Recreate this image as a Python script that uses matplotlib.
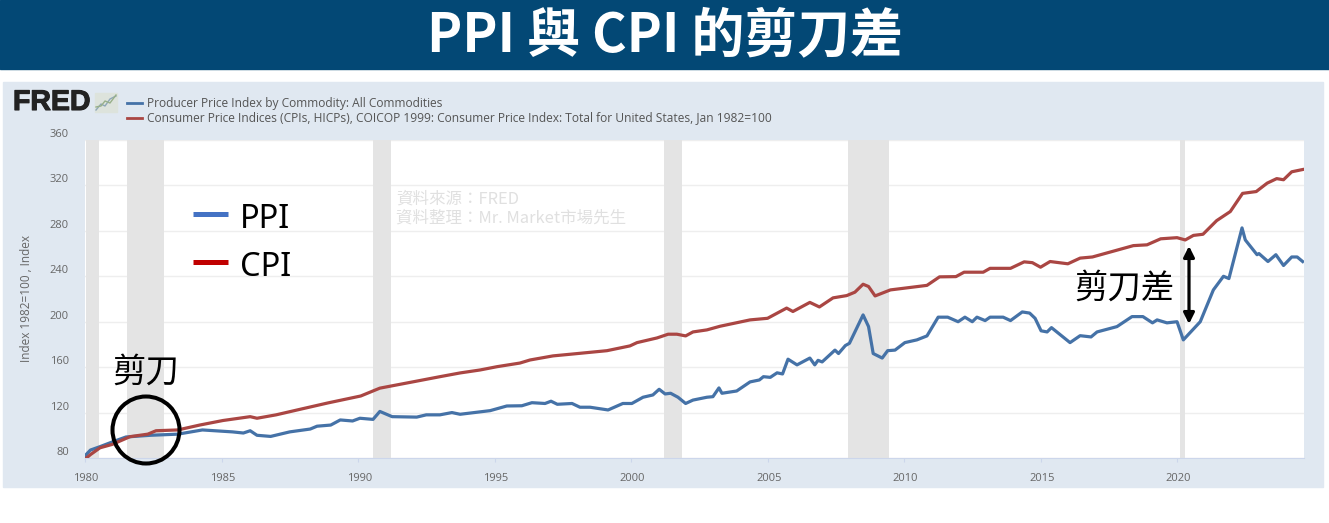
import matplotlib
matplotlib.use('Agg')
import matplotlib.pyplot as plt
import matplotlib.patheffects as pe
from matplotlib.patches import Rectangle, Circle
from matplotlib.transforms import ScaledTranslation

W, H = 1329, 523
CJK = ['Noto Sans CJK TC', 'DejaVu Sans']

# valores
cpi_years = [1980.0, 1980.2, 1980.55, 1981.0, 1981.65, 1982.3, 1982.6, 1983.4, 1984.2, 1985.05, 1986.05, 1986.3,
             1987.0, 1987.9, 1988.9, 1990.1, 1990.8, 1992.0, 1993.0, 1993.74, 1994.47, 1995.09, 1995.93, 1996.3,
             1997.14, 1997.88, 1999.12, 1999.96, 2000.22, 2000.95, 2001.36, 2001.68, 2002.0, 2002.27, 2002.78, 2003.26,
             2004.36, 2005.0, 2005.7, 2005.93, 2006.55, 2006.9, 2007.4, 2007.9, 2008.2, 2008.5,
             2008.7, 2008.94, 2009.5, 2010.84, 2011.3, 2011.9, 2012.2, 2012.9, 2013.15, 2013.9, 2014.4, 2014.7, 2015.0,
             2015.35, 2016.0, 2016.45, 2016.9, 2017.65, 2018.4, 2018.9, 2019.4, 2020.0, 2020.3, 2020.6, 2020.95,
             2021.45, 2021.95, 2022.4, 2022.9, 2023.3, 2023.65, 2023.9, 2024.2, 2024.6]
cpi_values = [79, 83, 89, 92, 98.8, 101, 104, 104.7, 109, 113, 116.4, 115,
              118, 123, 128.5, 134.6, 141.5, 147, 151.6, 154.9, 157.5, 160.4, 163.6, 166.3,
              169.9, 171.6, 174.5, 178.7, 181.6, 185.7, 189, 189, 187.5, 191, 192.8, 196,
              201.6, 203, 212, 209, 217, 213, 221, 223, 226, 233,
              231, 222.7, 228, 232, 239.5, 239.7, 243.6, 243.6, 247, 247, 252.7, 252, 248,
              253, 251, 256, 257, 262, 267, 267.7, 273, 274, 272, 276, 277,
              289, 297, 313, 314.6, 322, 326, 325, 332, 334]

ppi_years = [1980.0, 1980.2, 1980.55, 1981.03, 1981.5, 1982.4, 1983.4, 1984.3, 1985.4, 1985.8, 1986.05, 1986.3,
             1986.8, 1987.5, 1988.25, 1988.5, 1989.0, 1989.35, 1989.8, 1990.07, 1990.55, 1990.8, 1991.25, 1992.15,
             1992.5, 1993.0, 1993.44, 1993.74, 1994.84, 1995.45, 1996.0, 1996.37, 1996.85, 1997.07, 1997.3, 1997.84,
             1998.13, 1998.5, 1999.16, 1999.7, 2000.03, 2000.44, 2000.8, 2001.03, 2001.25, 2001.45, 2001.72, 2002.0,
             2002.27, 2002.78, 2003.0, 2003.22, 2003.33, 2003.87, 2004.36, 2004.7, 2004.85, 2005.1, 2005.35, 2005.55,
             2005.75, 2006.08, 2006.55, 2006.73, 2006.85, 2007.0, 2007.47, 2007.6, 2007.85, 2008.0, 2008.5, 2008.7,
             2008.87, 2009.2, 2009.4, 2009.67, 2010.03, 2010.47, 2010.84, 2011.25, 2011.6, 2011.98, 2012.23, 2012.5,
             2012.67, 2012.97, 2013.15, 2013.63, 2013.9, 2014.33, 2014.6, 2014.8, 2015.02, 2015.24, 2015.4, 2016.08,
             2016.45, 2016.85, 2017.07, 2017.8, 2018.35, 2018.75, 2019.1, 2019.27, 2019.63, 2020.0, 2020.23, 2020.85,
             2021.33, 2021.7, 2021.9, 2022.38, 2022.5, 2022.93, 2023.0, 2023.33, 2023.62, 2023.9, 2024.2, 2024.4, 2024.6]
ppi_values = [82, 87, 90, 94.4, 98.5, 100, 101, 104.7, 103, 102, 104, 100,
              99, 103, 105.5, 108, 109, 113.5, 112.6, 115, 114, 121, 116.4, 116,
              118, 118, 120, 118.5, 121.7, 125.8, 126, 128.7, 128, 130, 127.3, 128,
              124.7, 124.7, 122.3, 128, 128, 133.5, 135.5, 140.5, 136.4, 137, 133.5, 128,
              131, 133.5, 134, 141.7, 137, 139, 147, 148.7, 151.6, 151, 155, 154,
              167, 162, 168, 162, 166, 164.6, 175, 172, 179, 181, 206, 195.7,
              172, 168, 174.5, 175, 181.6, 184, 187.5, 204, 204, 200, 204, 200,
              204, 201, 204, 204, 201, 208.6, 207.6, 203, 192, 191, 194.8, 181.6,
              187.7, 186.6, 191, 195.7, 204.5, 204.5, 199, 201.6, 199, 200, 184, 200,
              228, 240, 238, 282.6, 272, 259, 260, 253, 259, 249.5, 257, 257, 253]

recessions = [(1980.05, 1980.5), (1981.55, 1982.9), (1990.55, 1991.2), (2001.2, 2001.88), (2007.95, 2009.45), (2020.1, 2020.3)]
y_ticks = [80, 120, 160, 200, 240, 280, 320, 360]
x_ticks = [1980, 1985, 1990, 1995, 2000, 2005, 2010, 2015, 2020]

series_ppi = 'Producer Price Index by Commodity: All Commodities'
series_cpi = 'Consumer Price Indices (CPIs, HICPs), COICOP 1999: Consumer Price Index: Total for United States, Jan 1982=100'

fig = plt.figure(figsize=(W / 100, H / 100), dpi=100, facecolor='white')

# fundo em coordenadas de pixel
bg = fig.add_axes([0, 0, 1, 1], zorder=0)
bg.set_xlim(0, W)
bg.set_ylim(H, 0)
bg.axis('off')
bg.add_patch(Rectangle((0, 0), W, 69, color='#034875'))
bg.add_patch(Rectangle((3, 82), 1320, 405, color='#e0e8f1'))
bg.text(665, 36, 'PPI 與 CPI 的剪刀差', color='white', fontsize=38.1, fontweight='bold', family=CJK, ha='center', va='center')
bg.text(13, 103, 'FRED', color='#222222', fontsize=20.5, fontweight='bold', family='Liberation Sans', va='center',
        path_effects=[pe.withStroke(linewidth=0.8, foreground='#222222')])
bg.add_patch(Rectangle((95, 93), 22, 19, color='#dde3dc'))
bg.plot([96, 101, 105, 110, 116], [110, 104, 106, 99, 96], color='#8fa8b8', lw=1)
bg.plot([96, 101, 105, 110, 116], [107, 106, 101, 103, 95], color='#98b08a', lw=1)
bg.plot([127, 142], [103, 103], color='#4572a7', lw=2)
bg.plot([127, 142], [117.5, 117.5], color='#aa4643', lw=2)
bg.text(147, 103, series_ppi, color='#555555', fontsize=8.66, family='Open Sans', va='center')
bg.text(147, 117.5, series_cpi, color='#555555', fontsize=8.66, family='Open Sans', va='center')
bg.text(27, 298, 'Index 1982=100 , Index', color='#666666', fontsize=8.5, family='Open Sans', rotation=90, ha='center', va='center')

# grafico principal
ax = fig.add_axes([85 / W, 1 - 458 / H, (1304 - 85) / W, (458 - 140) / H], zorder=1)
ax.set_xlim(1980, 2024.65)
ax.set_ylim(80, 360)
ax.set_facecolor('white')
for start, end in recessions:
    ax.axvspan(start, end, color='#e4e4e4', lw=0, zorder=2)
ax.plot(ppi_years, ppi_values, color='#4572a7', lw=2.3, zorder=3, solid_joinstyle='round')
ax.plot(cpi_years, cpi_values, color='#aa4643', lw=2.3, zorder=3, solid_joinstyle='round')
ax.set_yticks(y_ticks)
ax.set_xticks(x_ticks)
ax.grid(axis='y', color='#eeeeee', lw=1, zorder=1)
ax.tick_params(axis='y', length=0, pad=11.7, labelsize=8, labelcolor='#666666')
ax.tick_params(axis='x', length=3, color='#ccd6eb', pad=8, labelsize=8, labelcolor='#666666')
for lab in ax.get_yticklabels():
    lab.set_family('Open Sans')
    lab.set_verticalalignment('bottom')
for lab in ax.get_xticklabels():
    lab.set_family('Open Sans')
    lab.set_transform(lab.get_transform() + ScaledTranslation(1.2 / 100, 0, fig.dpi_scale_trans))
for name, sp in ax.spines.items():
    sp.set_visible(name == 'bottom')
ax.spines['bottom'].set_color('#ccd6eb')

# anotacoes por cima de tudo
top = fig.add_axes([0, 0, 1, 1], zorder=2)
top.set_xlim(0, W)
top.set_ylim(H, 0)
top.axis('off')
top.patch.set_alpha(0)
top.text(396, 199, '資料來源：FRED', color='#e0e0e0', fontsize=11.9, family=CJK, va='center')
top.text(396, 218, '資料整理：Mr. Market市場先生', color='#e0e0e0', fontsize=11.9, family=CJK, va='center')
top.plot([193, 228], [214, 214], color='#4472c4', lw=3.6, solid_capstyle='butt')
top.plot([193, 228], [262, 262], color='#c00000', lw=3.6, solid_capstyle='butt')
top.text(240, 219, 'PPI', color='black', fontsize=23.5, family='Noto Sans', va='center')
top.text(240, 267, 'CPI', color='black', fontsize=23.5, family='Noto Sans', va='center')
top.text(146, 372, '剪刀', color='black', fontsize=24, family=CJK, ha='center', va='center')
top.add_patch(Circle((146, 430), 33.5, fill=False, ec='black', lw=2.9))
top.text(1124, 288, '剪刀差', color='black', fontsize=24, family=CJK, ha='center', va='center')
top.annotate('', xy=(1189, 246), xytext=(1189, 324),
             arrowprops=dict(arrowstyle='<|-|>', color='black', lw=2.3, mutation_scale=16, shrinkA=0, shrinkB=0))

fig.savefig('out.png', dpi=100)
